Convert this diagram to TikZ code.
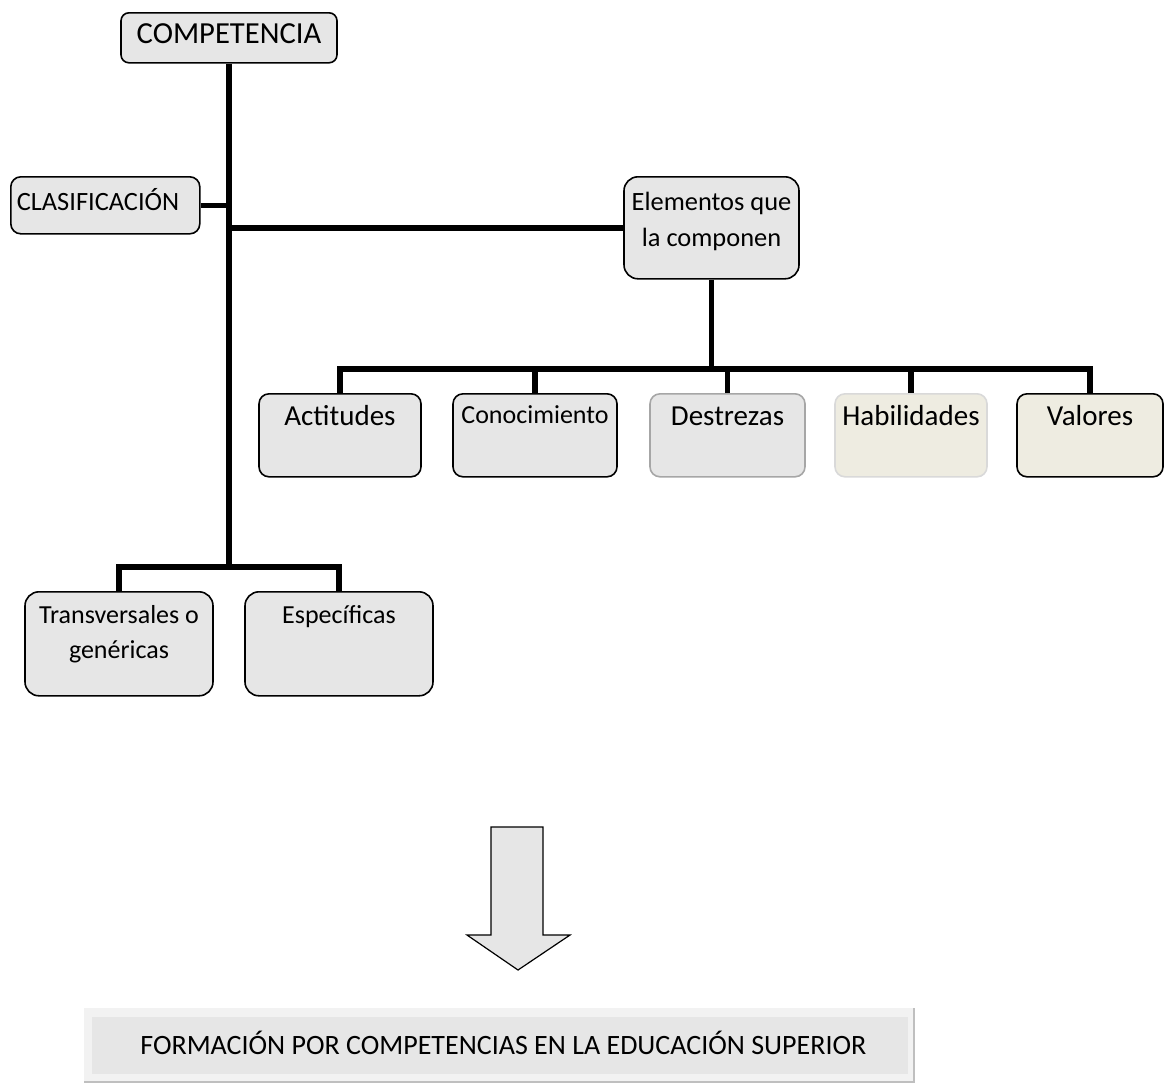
\documentclass[tikz,border=0pt]{standalone}
\usepackage{fontspec}
\setmainfont{Carlito}
\usetikzlibrary{calc}

\definecolor{boxgray}{RGB}{230,230,230}
\definecolor{boxbeige}{RGB}{238,236,225}
\definecolor{edgegray}{RGB}{166,166,166}
\definecolor{edgelight}{RGB}{217,217,217}
\definecolor{barlight}{RGB}{242,242,242}
\definecolor{barline}{RGB}{191,191,191}

\tikzset{
	box/.style={draw=black, line width=0.8pt, fill=boxgray, rounded corners=5pt, anchor=north,
		inner xsep=0pt, inner ysep=0pt, align=center},
	link/.style={line width=2.8pt},
}

\begin{document}
\begin{tikzpicture}[x=0.5pt,y=-0.5pt]
			%%%%% START %%%%%
			\def\rowtop{393}
			\def\rowfont{\fontsize{14.5}{17}\selectfont}
			\def\smfont{\fontsize{13}{17.5}\selectfont}
			\def\bustop{369}
			\def\busbot{567}

			\useasboundingbox (0,0) rectangle (1165,1083);

			\node[box, minimum width=108pt, text height=15.5pt, text depth=9.5pt, rounded corners=4pt,
				font=\fontsize{15.3}{18}\selectfont] (comp) at (229,12) {COMPETENCIA};
			\node[box, anchor=north west, inner xsep=3pt, text width=88.5pt, align=left,
				text height=17pt, text depth=11.5pt, font=\fontsize{13.2}{15}\selectfont] (clas) at (10,176) {CLASIFICACIÓN};
			\node[box, minimum width=87.5pt, text height=35pt, text depth=16pt, rounded corners=7pt,
				font=\fontsize{13.2}{18}\selectfont] (elem) at (711.5,176) {Elementos que\\la componen};

			\node[box, minimum width=81pt, text height=16pt, text depth=25.5pt, font=\rowfont] (act) at (340,\rowtop) {Actitudes};
			\node[box, minimum width=82pt, text height=15pt, text depth=26.5pt, font=\fontsize{13}{16}\selectfont] (con) at (535,\rowtop) {Conocimiento};
			\node[box, draw=edgegray, minimum width=77.5pt, text height=16pt, text depth=25.5pt, font=\rowfont] (des) at (727.5,\rowtop) {Destrezas};
			\node[box, draw=edgelight, fill=boxbeige, minimum width=76pt, text height=16pt, text depth=25.5pt, font=\rowfont] (hab) at (911,\rowtop) {Habilidades};
			\node[box, fill=boxbeige, minimum width=73pt, text height=16pt, text depth=25.5pt, font=\rowfont] (val) at (1090,\rowtop) {Valores};

			\node[box, minimum width=94pt, text height=33.5pt, text depth=18.5pt, rounded corners=7pt, font=\smfont] (trans) at (119,591) {Transversales o\\genéricas};
			\node[box, minimum width=94pt, text height=16pt, text depth=36pt, rounded corners=7pt, font=\smfont] (espe) at (339,591) {Específicas};

			\coordinate (bus) at (711.5,\bustop);
			\coordinate (tbot) at (229,\busbot);

			% tronco y ramas
			\draw[link] (comp.south) -- (tbot);
			\draw[link] (clas.east) -- (clas.east -| comp.south);
			\draw[link] (elem.west) -- (elem.west -| comp.south);
			\draw[link] (elem.south) -- (bus);
			\draw[link] (act.north) |- (bus) -| (val.north);
			\draw[link] (con.north) -- (con.north |- bus);
			\draw[link] (des.north) -- (des.north |- bus);
			\draw[link] (hab.north) -- (hab.north |- bus);
			\draw[link] (trans.north) |- (tbot) -| (espe.north);

			% flecha
			\draw[line width=0.6pt, fill=boxgray] (491,827) -- (543,827) -- (543,935) -- (570,935)
				-- (518,970) -- (467,935) -- (491,935) -- cycle;

			% barra final
			\fill[barlight] (84,1008) rectangle (914,1082);
			\fill[boxgray] (92,1017) rectangle (908,1074);
			\draw[barline, line width=0.6pt] (84,1082) -- (914,1082) -- (914,1008);
			\node[anchor=base west, inner sep=0pt, font=\fontsize{14}{17}\selectfont] (formacion) at (140,1054)
				{FORMACIÓN POR COMPETENCIAS EN LA EDUCACIÓN SUPERIOR};
			%%%%% END %%%%%
\end{tikzpicture}
\end{document}
